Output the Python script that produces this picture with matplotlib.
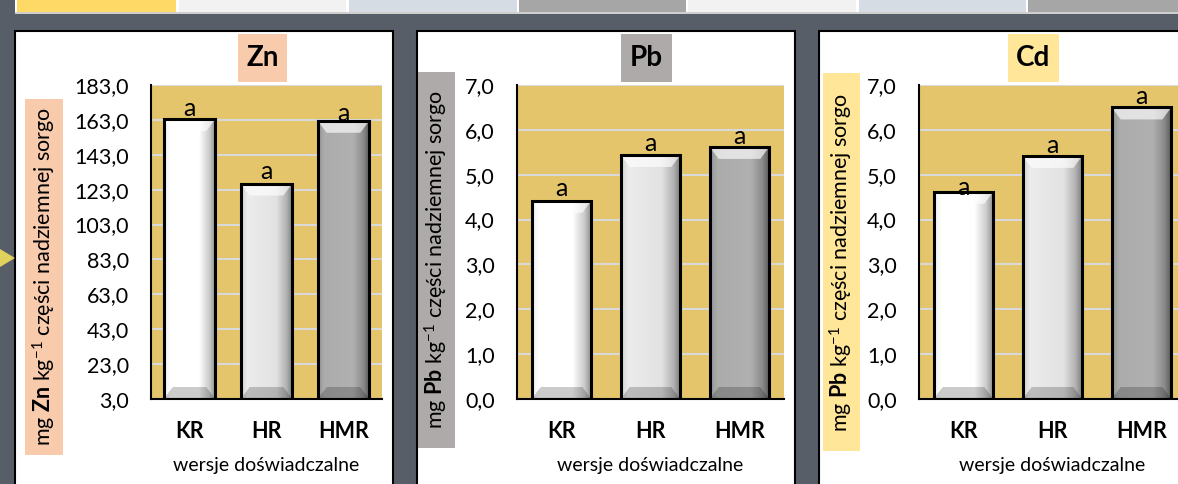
import matplotlib
matplotlib.use("Agg")
import matplotlib.pyplot as plt
import numpy as np
from matplotlib.colors import LinearSegmentedColormap
from matplotlib.patches import Rectangle, Polygon
from matplotlib.ticker import FuncFormatter

# dane
kategorie = ["KR", "HR", "HMR"]
zn = [163.5, 126.5, 162.5]
pb = [4.42, 5.44, 5.62]
cd = [4.62, 5.42, 6.50]
litery = ["a", "a", "a"]
zn_ticks = [3, 23, 43, 63, 83, 103, 123, 143, 163, 183]
metal_ticks = [0, 1, 2, 3, 4, 5, 6, 7]

plt.rcParams["font.family"] = ["Lato", "DejaVu Sans"]
plt.rcParams["mathtext.fontset"] = "custom"
plt.rcParams["mathtext.rm"] = "Lato"
plt.rcParams["mathtext.bf"] = "Lato:bold"
plt.rcParams["mathtext.it"] = "Lato:italic"

W, H = 1178, 484
fig = plt.figure(figsize=(W / 100, H / 100), dpi=100, facecolor="#585e68")


def px(x0, y0, x1, y1):
    return [x0 / W, 1 - y1 / H, (x1 - x0) / W, (y1 - y0) / H]


def box(x0, y0, x1, y1, color, ec="none", lw=0, z=-2):
    l, b, w, h = px(x0, y0, x1, y1)
    fig.patches.append(Rectangle((l, b), w, h, transform=fig.transFigure,
                                 facecolor=color, edgecolor=ec, linewidth=lw, zorder=z))


# pasek tabeli u gory
box(15, -5, 1190, 14, "white")
box(15, 12, 1190, 14, "#cfcfcf")
for x0, x1, c in [(17, 176, "#ffd966"), (179, 346, "#f2f2f2"), (349, 517, "#d6dce4"),
                  (519, 686, "#a6a6a6"), (688, 856, "#f2f2f2"), (859, 1026, "#d6dce4"),
                  (1028, 1190, "#a6a6a6")]:
    box(x0, -5, x1, 12, c)

# strzalka po lewej
fig.patches.append(Polygon([(0, 1 - 249 / H), (15 / W, 1 - 258 / H), (0, 1 - 267 / H)],
                           closed=True, transform=fig.transFigure, facecolor="#e0d25c",
                           edgecolor="none", zorder=-1))

# panele
for x0, x1 in [(15, 393), (417, 795), (819, 1200)]:
    box(x0, 31, x1, 520, "white", ec="black", lw=1.5)

bar_style = {
    "KR": [(0, "#eeeeee"), (0.12, "#ffffff"), (0.68, "#ffffff"), (0.88, "#cacaca"), (1, "#8a8a8a")],
    "HR": [(0, "#d2d2d2"), (0.12, "#ececec"), (0.68, "#e2e2e2"), (0.88, "#b2b2b2"), (1, "#7a7a7a")],
    "HMR": [(0, "#939393"), (0.12, "#acacac"), (0.68, "#b0b0b0"), (0.88, "#8a8a8a"), (1, "#555555")],
}

fmt = FuncFormatter(lambda v, p: f"{v:.1f}".replace(".", ","))


def panel(rect, values, ylim, ticks, offsets, title, title_rect, title_color,
          ylabel, ylabel_rect, ylabel_pos, label_color):
    ax = fig.add_axes(px(*rect), zorder=1)
    ax.set_facecolor("#e4c56b")
    w_px = rect[2] - rect[0]
    h_px = rect[3] - rect[1]
    base = ylim[0]
    bars = ax.bar(range(len(kategorie)), np.array(values) - base, bottom=base, width=0.67,
                  facecolor="none", edgecolor="black", linewidth=2.2, zorder=4)
    bx = 9 * 3 / w_px
    by = 12 * (ylim[1] - ylim[0]) / h_px
    for k, p in zip(kategorie, bars.patches):
        x0, y0 = p.get_x(), p.get_y()
        x1, y1 = x0 + p.get_width(), y0 + p.get_height()
        cm = LinearSegmentedColormap.from_list(k, bar_style[k])
        ax.imshow(np.linspace(0, 1, 200)[None, :], cmap=cm, extent=[x0, x1, y0, y1],
                  aspect="auto", interpolation="bilinear", zorder=2)
        ax.add_patch(Polygon([(x0, y1), (x1, y1), (x1 - bx, y1 - by), (x0 + bx, y1 - by)],
                             facecolor="white", alpha=0.65, edgecolor="none", zorder=3))
        ax.add_patch(Polygon([(x0, y0), (x1, y0), (x1 - bx, y0 + by), (x0 + bx, y0 + by)],
                             facecolor="black", alpha=0.2, edgecolor="none", zorder=3))
    for i, (v, t, off) in enumerate(zip(values, litery, offsets)):
        ax.annotate(t, (i, v), xytext=(0, off), textcoords="offset pixels",
                    ha="center", va="center", fontsize=18, zorder=5)
    ax.set_xlim(-0.5, len(kategorie) - 0.5)
    ax.set_ylim(ylim)
    ax.set_yticks(ticks)
    ax.yaxis.set_major_formatter(fmt)
    ax.set_xticks(range(len(kategorie)))
    ax.set_xticklabels(kategorie, fontweight="bold")
    ax.tick_params(axis="y", length=0, pad=16, labelsize=15.5)
    ax.tick_params(axis="x", length=0, pad=16, labelsize=15.5)
    ax.yaxis.grid(True, color="#d9d9d9", linewidth=1.5)
    ax.set_axisbelow(True)
    for s in ["top", "right"]:
        ax.spines[s].set_visible(False)
    for s in ["left", "bottom"]:
        ax.spines[s].set_linewidth(1.5)
        ax.spines[s].set_zorder(6)

    box(*title_rect, title_color, z=-1)
    fig.text(((title_rect[0] + title_rect[2]) / 2) / W, 1 - ((title_rect[1] + title_rect[3]) / 2) / H,
             title, fontsize=20, fontweight="bold", ha="center", va="center")
    box(*ylabel_rect, label_color, z=-1)
    fig.text(ylabel_pos[0] / W, 1 - ylabel_pos[1] / H, ylabel, rotation=90, fontsize=15.5,
             ha="center", va="center")
    fig.text(((rect[0] + rect[2]) / 2) / W, 1 - 466 / H, "wersje doświadczalne",
             fontsize=14, ha="center", va="center")
    return ax


panel((151, 85, 382, 399), zn, (3, 183), zn_ticks, [11, 12, 7],
      "Zn", (238, 34, 287, 82), "#f8cbad",
      r"mg $\mathbf{Zn}$ kg$^{\mathrm{-1}}$ części nadziemnej sorgo",
      (25, 99, 63, 455), (44, 277), "#f8cbad")
panel((517, 85, 784, 399), pb, (0, 7), metal_ticks, [12, 11, 10],
      "Pb", (621, 34, 672, 82), "#aeaaaa",
      r"mg $\mathbf{Pb}$ kg$^{\mathrm{-1}}$ części nadziemnej sorgo",
      (418, 72, 455, 448), (436, 259), "#aeaaaa")
panel((919, 85, 1186, 399), cd, (0, 7), metal_ticks, [4, 10, 11],
      "Cd", (1008, 34, 1059, 82), "#ffe699",
      r"mg $\mathbf{Pb}$ kg$^{\mathrm{-1}}$ części nadziemnej sorgo",
      (823, 73, 860, 451), (841, 262), "#ffe699")

fig.savefig("out.png", dpi=100, facecolor=fig.get_facecolor())
